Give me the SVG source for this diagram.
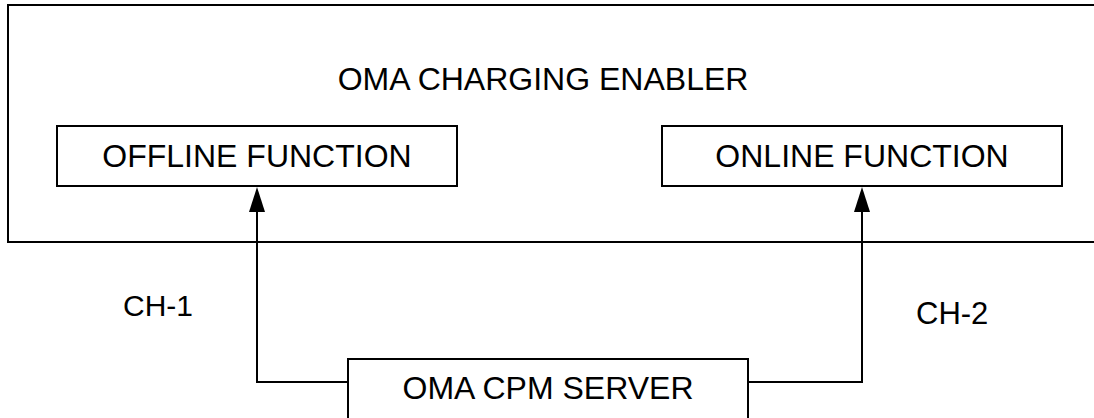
<svg xmlns="http://www.w3.org/2000/svg" width="1094" height="418" viewBox="0 0 1094 418">
<defs>
<style>
.box{fill:#fff;stroke:#000;stroke-width:2}
.t{font-family:"Liberation Sans",Arial,sans-serif;font-size:32px;fill:#000}
.c{text-anchor:middle}
.conn{fill:none;stroke:#000;stroke-width:2}
</style>
<marker id="ah" markerUnits="userSpaceOnUse" markerWidth="18" markerHeight="26" refX="17" refY="9" orient="auto">
<path d="M0,0 L17,9 L0,18 Z" transform="translate(0,0)" fill="#000"/>
</marker>
</defs>
<rect width="1094" height="418" fill="#fff"/>
<g id="enabler">
<rect class="box" x="8" y="5" width="1100" height="237"/>
<text class="t c" x="543" y="90">OMA CHARGING ENABLER</text>
</g>
<g id="offline">
<rect class="box" x="57" y="126" width="400" height="60"/>
<text class="t c" x="257" y="167">OFFLINE FUNCTION</text>
</g>
<g id="online">
<rect class="box" x="662" y="126" width="400" height="60"/>
<text class="t c" x="862" y="167">ONLINE FUNCTION</text>
</g>
<g id="cpm">
<rect class="box" x="348" y="359" width="400" height="80"/>
<text class="t c" x="548" y="399">OMA CPM SERVER</text>
</g>
<g id="connectors">
<path class="conn" d="M348,382 H257 V212"/>
<path d="M257,187 L249,212 L265,212 Z" fill="#000"/>
<path class="conn" d="M748,382 H862 V212"/>
<path d="M862,187 L854,212 L870,212 Z" fill="#000"/>
<text class="t" x="123" y="316" style="font-size:30px">CH-1</text>
<text class="t" x="916" y="324" style="font-size:31px">CH-2</text>
</g>
</svg>
